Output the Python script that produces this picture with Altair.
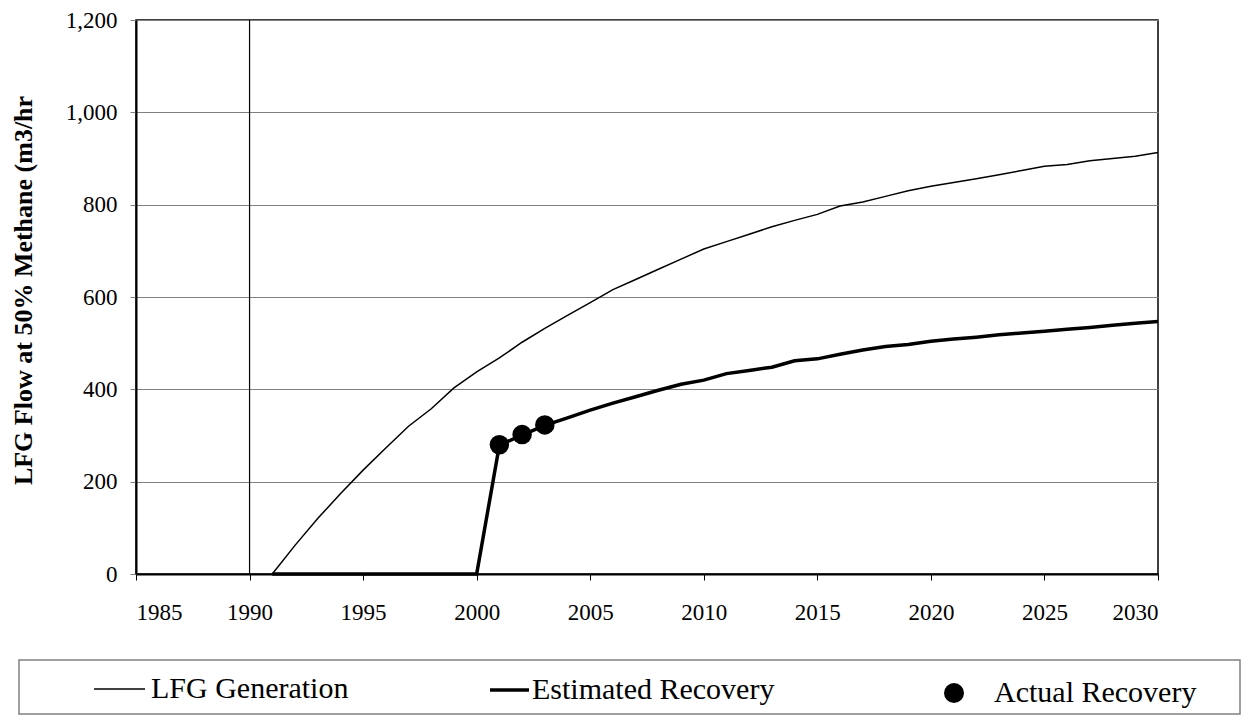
import altair as alt
import pandas as pd

years = list(range(1991, 2031))
generation = [0, 62, 120, 174, 225, 273, 320, 358, 403, 438,
              468, 502, 532, 560, 588, 616, 638, 660, 682, 704,
              720, 736, 752, 766, 779, 797, 806, 818, 830, 840,
              848, 856, 865, 874, 883, 887, 895, 900, 905, 913]
recovery = [0, 0, 0, 0, 0, 0, 0, 0, 0, 0,
            279, 301, 322, 338, 355, 370, 384, 398, 411, 420,
            434, 441, 448, 462, 466, 476, 485, 493, 497, 504,
            509, 513, 518, 522, 526, 530, 534, 539, 543, 547]
actual_years = [2001, 2002, 2003]
actual = [280, 302, 323]

series_names = ["LFG Generation", "Estimated Recovery", "Actual Recovery"]
x_ticks = list(range(1985, 2031, 5))
y_ticks = list(range(0, 1201, 200))

gen_df = pd.DataFrame({"year": years, "value": generation, "series": series_names[0]})
est_df = pd.DataFrame({"year": years, "value": recovery, "series": series_names[1]})
act_df = pd.DataFrame({"year": actual_years, "value": actual, "series": series_names[2]})

FONT = "Liberation Serif"
LEG_CY = 668  # legend row centre, px below plot top


def leg(x, size, offset, stype, sw):
    h = size ** 0.5
    return alt.Legend(
        title=None, orient="none", legendX=x, legendY=LEG_CY - h / 2, padding=0,
        labelFont=FONT, labelFontSize=30, labelColor="black", labelLimit=500,
        labelOffset=offset, symbolType=stype, symbolSize=size,
        symbolStrokeWidth=sw, symbolStrokeColor="black", symbolFillColor="black",
        symbolOpacity=1,
    )


x_enc = alt.X("year:Q", scale=alt.Scale(domain=[1985, 2030], nice=False, zero=False),
              axis=alt.Axis(values=x_ticks, format="d", title=None, grid=False,
                            labelFont=FONT, labelFontSize=23, labelColor="black",
                            tickColor="black", tickSize=6, labelPadding=21,
                            domainColor="black", domainWidth=2))
y_enc = alt.Y("value:Q", scale=alt.Scale(domain=[0, 1200], nice=False),
              axis=alt.Axis(values=y_ticks, format=",d", title="LFG Flow at 50% Methane (m3/hr",
                            labelFont=FONT, labelFontSize=23, labelColor="black",
                            grid=True, gridColor="#808080", gridWidth=1.2,
                            tickColor="#808080", tickSize=6, labelPadding=13,
                            domainColor="black", domainWidth=2,
                            titleFont=FONT, titleFontSize=26, titleFontWeight="bold",
                            titleColor="black", titleAngle=270, titleX=-113, titleY=270,
                            titleAlign="center", titleBaseline="middle"))

gen = alt.Chart(gen_df).mark_line(strokeWidth=1.5).encode(
    x=x_enc, y=y_enc,
    color=alt.Color("series:N", scale=alt.Scale(domain=[series_names[0]], range=["black"]),
                    legend=leg(-43, 51 ** 2, 5, "stroke", 1.5)))
est = alt.Chart(est_df).mark_line(strokeWidth=3.5).encode(
    x="year:Q", y="value:Q",
    color=alt.Color("series:N", scale=alt.Scale(domain=[series_names[1]], range=["black"]),
                    legend=leg(352, 39 ** 2, 1, "stroke", 3.5)))
act = alt.Chart(act_df).mark_circle(size=380, opacity=1).encode(
    x="year:Q", y="value:Q",
    color=alt.Color("series:N", scale=alt.Scale(domain=[series_names[2]], range=["black"]),
                    legend=leg(803, 400, 25, "circle", 0)))

vline = alt.Chart(pd.DataFrame({"year": [1990]})).mark_rule(color="black", strokeWidth=1.2).encode(x="year:Q")

box = alt.Chart(pd.DataFrame({"a": [0]})).mark_rect(fillOpacity=0, stroke="#808080", strokeWidth=1.5).encode(
    x=alt.value(-117), x2=alt.value(1104), y=alt.value(640), y2=alt.value(694))

chart = alt.layer(vline, gen, est, act, box).resolve_scale(color="independent").properties(
    width=1022, height=554,
    padding={"left": 128, "top": 12, "right": 83, "bottom": 141},
    autosize=alt.AutoSizeParams(type="none"),
).configure(font=FONT).configure_view(stroke="black", strokeWidth=1.5).configure_legend(
    labelFont=FONT, labelFontSize=30, labelColor="black")

chart.save("out.html", embed_options={"renderer": "svg", "actions": False})
